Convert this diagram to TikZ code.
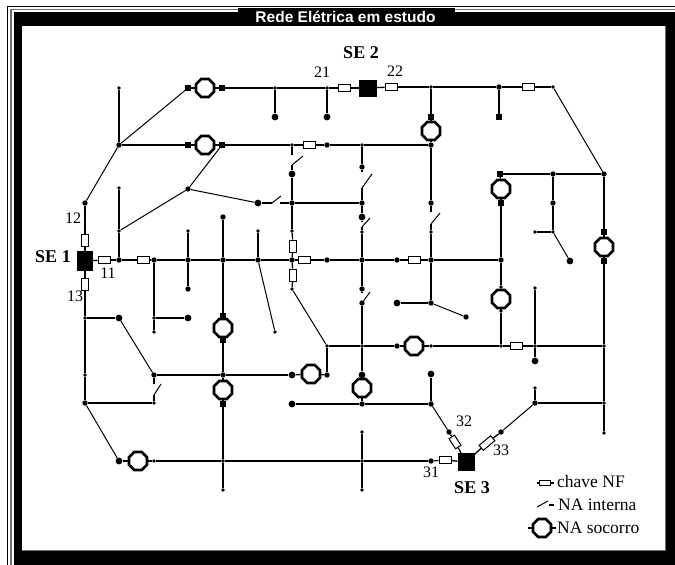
\documentclass[tikz,border=0pt]{standalone}
\usepackage{fontspec}
\setmainfont{Liberation Serif}
\newfontfamily\titlefont{Liberation Sans}
\usepackage{xcolor}
\usepackage{tikz}
\usetikzlibrary{shapes.geometric}
\definecolor{FrameGray}{HTML}{707070}

\begin{document}
\begin{tikzpicture}[
  x=1pt, y=-1pt,
  tinydot/.style={circle, fill, inner sep=0pt, minimum size=3.8pt},
  junction/.style={circle, fill, inner sep=0pt, minimum size=5.4pt},
  bigdot/.style={circle, fill, inner sep=0pt, minimum size=6.8pt},
  sqdot/.style={rectangle, fill, inner sep=0pt, minimum size=5.2pt},
  subst/.style={rectangle, fill, inner sep=0pt, minimum width=17pt, minimum height=18pt},
  nfsw/.style={rectangle, draw, fill=white, line width=1pt, inner sep=0pt, minimum width=12pt, minimum height=6.5pt},
  socorro/.style={regular polygon, regular polygon sides=8, draw, line width=2.7pt, fill=white, inner sep=0pt, minimum size=19.5pt},
  line/.style={line width=1.3pt},
  slant/.style={line width=1pt},
  num/.style={font=\fontsize{16}{16}\selectfont, inner sep=0pt},
  sename/.style={font=\fontsize{18}{18}\selectfont\bfseries, inner sep=0pt},
  legend/.style={font=\fontsize{17.5}{17.5}\selectfont, anchor=west, inner sep=0pt}
]
\useasboundingbox (0,0) rectangle (675,565);

% window frame
\fill[white] (0,0) rectangle (675,565);
\fill[black] (13.5,12) rectangle (675,565);
\draw[line width=1pt] (7.5,565) -- (7.5,6.5) -- (675,6.5);
\draw[FrameGray, line width=1.4pt] (11,565) -- (11,9.7) -- (675,9.7);
\fill[black] (238,8) rectangle (455,13);
\fill[white] (22,26) rectangle (665,550);
\draw[FrameGray, line width=0.7pt] (22,550) -- (665,550) -- (665,26);
\node[font=\titlefont\fontsize{15.5}{15.5}\selectfont\bfseries, text=white, inner sep=0pt] (title) at (345.5,16.5) {Rede Elétrica em estudo};

% substations
\node[subst, minimum width=16pt, minimum height=20pt] (se1) at (85,261) {};
\node[subst, minimum width=18pt, minimum height=17pt] (se2) at (368,88) {};
\node[subst] (se3) at (466,462) {};

% closed switches
\node[nfsw] (sw11) at (104,260) {};
\node[nfsw, rotate=90] (sw12) at (85,240) {};
\node[nfsw, rotate=90] (sw13) at (85,284) {};
\node[nfsw] (sw21) at (344,88) {};
\node[nfsw] (sw22) at (391,87) {};
\node[nfsw] (sw31) at (445,460) {};
\node[nfsw, rotate=-57] (sw32) at (455,442) {};
\node[nfsw, rotate=40, minimum width=15pt] (sw33) at (487,443) {};
\node[nfsw] (swa) at (143,260) {};
\node[nfsw] (swb) at (309,145) {};
\node[nfsw] (swc) at (304,260) {};
\node[nfsw, rotate=90] (swd) at (293,246) {};
\node[nfsw, rotate=90] (swe) at (293,275) {};
\node[nfsw] (swf) at (414,260) {};
\node[nfsw] (swg) at (528,87) {};
\node[nfsw] (swh) at (516,346) {};

% relief switches
\node[socorro] (so1) at (205,88) {};
\node[socorro] (so2) at (205,145) {};
\node[socorro] (so3) at (431,131) {};
\node[socorro] (so4) at (501,189) {};
\node[socorro] (so5) at (604,247) {};
\node[socorro] (so6) at (501,299) {};
\node[socorro] (so7) at (223,328) {};
\node[socorro] (so8) at (223,390) {};
\node[socorro] (so9) at (311,374) {};
\node[socorro] (so10) at (414,346) {};
\node[socorro] (so11) at (362,388) {};
\node[socorro] (so12) at (138,461) {};

% network points
\foreach \px/\py in {119/88, 275/88, 327/88, 431/87, 553/87, 292/145, 362/145, 119/188, 188/231,
  258/231, 292/231, 119/231, 535/232, 154/332, 275/332, 154/318, 85/318, 85/375, 154/403, 223/490,
  223/461, 535/288, 535/346, 535/388, 604/346, 604/403, 604/433, 362/432, 362/461, 362/490, 362/232,
  431/232, 362/346, 431/346, 501/346, 501/311, 501/287, 553/232, 292/289, 327/346, 154/461}
  \node[tinydot] (n\px-\py) at (\px,\py) {};
\foreach \px/\py in {119/145, 188/145, 327/145, 188/189, 85/203, 292/203, 362/203, 431/203, 553/174,
  604/174, 553/203, 119/260, 154/260, 188/260, 223/260, 258/260, 292/260, 327/260, 362/260, 397/260,
  431/260, 501/260, 362/289, 362/303, 431/303, 466/317, 188/289, 223/375, 154/375, 85/403, 362/167,
  327/375, 397/346, 431/145, 431/404, 362/404, 535/403, 449/432, 501/432, 431/461, 223/217, 499/87}
  \node[junction] (n\px-\py) at (\px,\py) {};
\foreach \px/\py in {275/117, 327/117, 292/174, 258/203, 362/217, 570/261, 397/303, 119/318, 188/318,
  292/375, 431/374, 292/404, 535/361, 119/461, 362/375}
  \node[bigdot] (n\px-\py) at (\px,\py) {};
\foreach \px/\py in {188/88, 222/88, 188/145, 222/145, 431/117, 499/117, 500/174, 501/203,
  604/232, 604/261, 223/316, 223/340, 223/404}
  \node[sqdot] (n\px-\py) at (\px,\py) {};

% free ends of the open switches
\foreach \c/\cx/\cy in {s1/292/155, f1/292/165, t1/303/156, s2/362/172, f2/362/188, t2/372/174,
  s3/362/221, f3/362/227, t3/370/218, s4/431/212, f4/431/224, t4/440/213,
  s5/362/293, t5/370/292, f6/272/203, t6/281/196, s6/280/203,
  s7/154/384, f7/154/395, t7/161/384,
  lga/537/483, lgb/554/483, lgc/537/507, lgd/548/501, lge/549/505, lgf/554/505, lgg/528/528, lgh/556/528}
  \coordinate (\c) at (\cx,\cy);

% feeders
\foreach \a/\b in {n119-88/n119-145, n188-88/so1, so1/n222-88, n222-88/n275-88, n275-88/n275-117,
  n275-88/n327-88, n327-88/n327-117, n327-88/sw21, sw21/se2, se2/sw22, sw22/n431-87, n431-87/n431-117,
  n431-117/so3, so3/n431-145, n431-87/n499-87, n499-87/n499-117, n499-87/swg, swg/n553-87,
  n604-174/n553-174, n553-174/n500-174, n500-174/so4, so4/n501-203, n501-203/n501-260, n501-260/n501-287,
  n501-287/so6, so6/n501-311, n501-311/n501-346, n553-174/n553-203, n553-203/n553-232, n553-232/n535-232,
  n604-174/n604-232, n604-232/so5, so5/n604-261, n604-261/n604-346, n604-346/n604-403, n604-403/n604-433,
  n119-145/n188-145, n188-145/so2, so2/n222-145, n222-145/n292-145, n292-145/swb, swb/n327-145,
  n327-145/n362-145, n362-145/n431-145, n431-145/n431-203, n362-145/n362-167,
  n85-203/sw12, sw12/se1, se1/sw13, sw13/n85-318, n119-188/n119-231, n119-231/n119-260,
  n258-203/f6, s6/n292-203, n292-203/n362-203, n292-174/n292-203, n292-203/n292-231, n292-231/swd,
  swd/n292-260, n292-260/swe, swe/n292-289, f2/n362-203, n362-203/n362-217,
  se1/sw11, sw11/n119-260, n119-260/swa, swa/n154-260, n154-260/n188-260, n188-260/n223-260,
  n223-260/n258-260, n258-260/n292-260, n292-260/swc, swc/n327-260, n327-260/n362-260, n362-260/n397-260,
  n397-260/swf, swf/n431-260, n431-260/n501-260, n362-232/n362-260, n362-260/n362-289,
  n362-303/n362-346, n362-346/n362-375, n362-375/so11, so11/n362-404,
  n431-232/n431-260, n431-260/n431-303, n431-303/n397-303, n188-231/n188-260, n188-260/n188-289,
  n223-217/n223-260, n223-260/n223-316, n223-316/so7, so7/n223-340, n223-340/n223-375, n223-375/so8,
  so8/n223-404, n223-404/n223-461, n223-461/n223-490, n258-231/n258-260,
  n154-260/n154-318, n154-318/n154-332, n154-318/n188-318,
  n85-318/n85-375, n85-375/n85-403, n85-318/n119-318, n154-375/n223-375, n223-375/n292-375,
  n292-375/so9, so9/n327-375, n327-375/n327-346, n327-346/n362-346, n362-346/n397-346, n397-346/so10,
  so10/n431-346, n431-346/n501-346, n501-346/swh, swh/n535-346, n535-346/n604-346,
  n535-288/n535-346, n535-346/n535-361, n85-403/n154-403, n119-461/so12, so12/n154-461,
  n154-461/n223-461, n223-461/n362-461, n362-461/n431-461, n431-461/sw31, sw31/se3,
  n362-432/n362-461, n362-461/n362-490, n292-404/n362-404, n362-404/n431-404, n431-374/n431-404,
  n449-432/sw32, sw32/se3, se3/sw33, sw33/n501-432, n535-388/n535-403, n535-403/n604-403,
  n292-145/s1, f1/n292-174, n362-167/s2, n362-217/s3, f3/n362-232, n431-203/s4, f4/n431-232,
  n362-289/s5, n154-375/s7, f7/n154-403}
  \draw[line] (\a) -- (\b);

% slanted branches and switch blades
\foreach \a/\b in {n119-145/n188-88, n553-87/n604-174, n553-232/n570-261, n119-145/n85-203,
  n222-145/n188-189, n188-189/n258-203, n188-189/n119-231, n292-289/n327-346, n431-303/n466-317,
  n258-260/n275-332, n119-318/n154-375, n85-403/n119-461, n431-404/n449-432, n501-432/n535-403,
  f1/t1, f2/t2, f3/t3, f4/t4, n362-303/t5, f6/t6, f7/t7}
  \draw[slant] (\a) -- (\b);

% labels
\node[num] (lb12) at (73,218) {12};
\node[num] (lb11) at (108,273) {11};
\node[num] (lb13) at (75,296) {13};
\node[num] (lb21) at (322,72) {21};
\node[num] (lb22) at (395,71) {22};
\node[num] (lb31) at (431,472) {31};
\node[num] (lb32) at (464,421) {32};
\node[num] (lb33) at (501,450) {33};
\node[sename] (nm1) at (53,257) {SE 1};
\node[sename] (nm2) at (361,53) {SE 2};
\node[sename] (nm3) at (472,488) {SE 3};

% legend
\node[nfsw, minimum width=11pt, minimum height=5.5pt] (swlg) at (545,483) {};
\draw[line] (lga) -- (swlg);
\draw[line] (swlg) -- (lgb);
\draw[slant] (lgc) -- (lgd);
\draw[line] (lge) -- (lgf);
\node[socorro] (solg) at (542,528) {};
\draw[line] (lgg) -- (solg);
\draw[line] (solg) -- (lgh);
\node[legend] (lgnf) at (557,482) {chave NF};
\node[legend] (lgna) at (558,505) {NA interna};
\node[legend] (lgso) at (557,528) {NA socorro};
\end{tikzpicture}
\end{document}
